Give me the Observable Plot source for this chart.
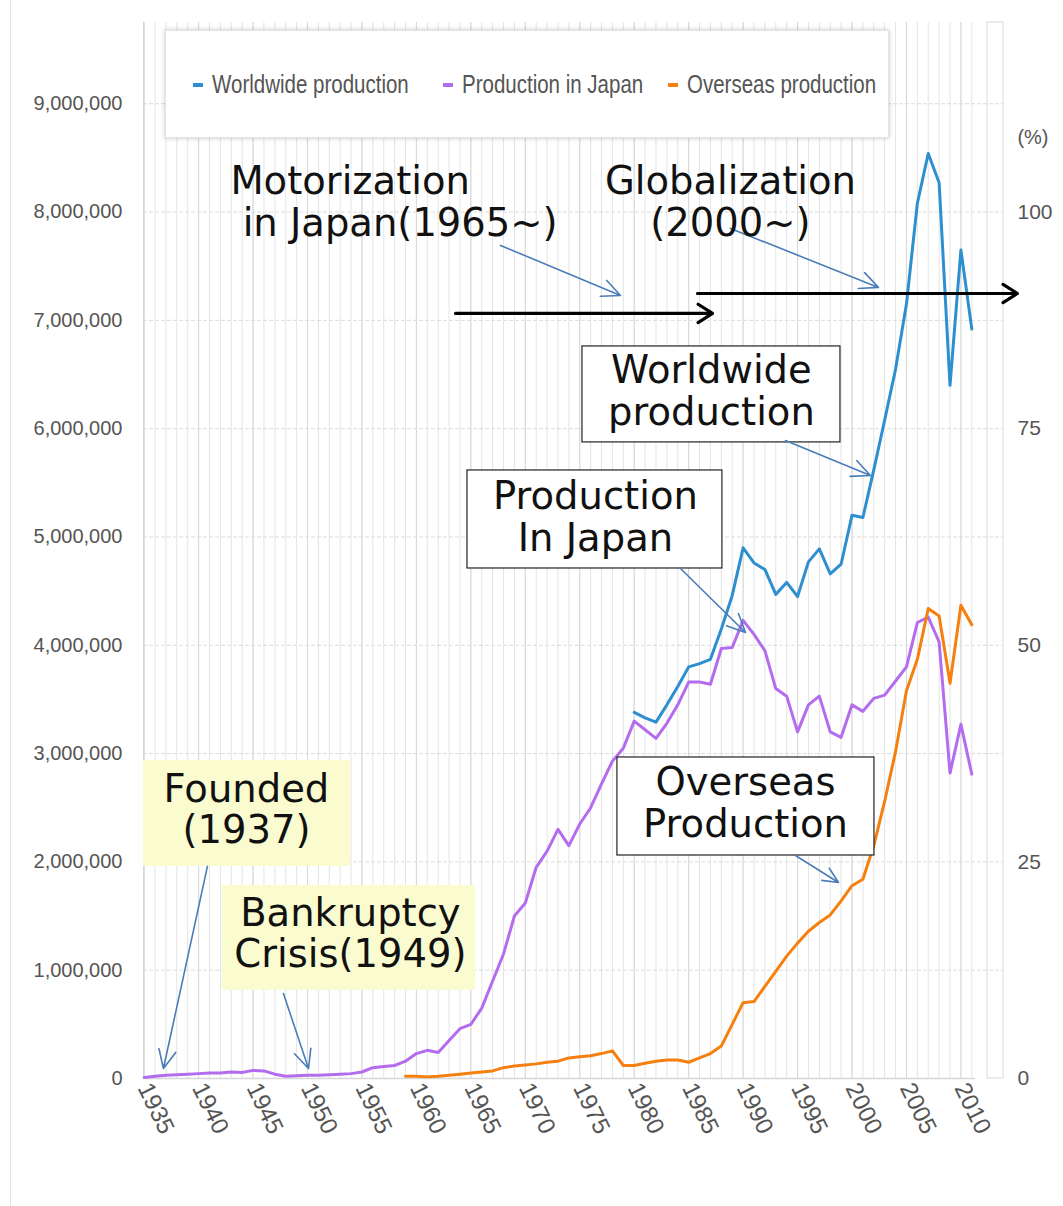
<!DOCTYPE html>
<html>
<head>
<meta charset="utf-8">
<script src="https://cdn.jsdelivr.net/npm/d3@7"></script>
<script src="https://cdn.jsdelivr.net/npm/@observablehq/plot@0.6"></script>
<style>
  html, body { margin: 0; padding: 0; background: #fff; }
  #wrap { position: relative; width: 1063px; height: 1206px; overflow: hidden; }
  #edge { position: absolute; left: 10px; top: 0; width: 1px; height: 1206px; background: #e2e2e2; }
  #legend { position: absolute; left: 165px; top: 30px; width: 724px; height: 108px; background: #fff;
            border: 1px solid #e3e3e3; box-shadow: 0 0 5px rgba(0,0,0,0.22); box-sizing: border-box;
            font-family: 'Liberation Sans', Arial, sans-serif; font-size: 25px; color: #555; }
  .li { position: absolute; top: 38px; height: 30px; }
  .sw { position: absolute; left: 0; top: 14px; width: 10px; height: 4px; }
  .lt { position: absolute; left: 19px; top: 0; white-space: nowrap; line-height: 30px;
        transform: scaleX(0.82); transform-origin: 0 50%; }
</style>
</head>
<body>
<div id="wrap"><div id="edge"></div></div>
<script>
// ---------------- data ----------------
const japanYears = d3.range(1935, 2012);
const japanValues = [
  10000, 20000, 30000, 35000, 40000, 45000, 50000, 50000, 60000, 55000,
  75000, 70000, 40000, 20000, 25000, 30000, 30000, 35000, 40000, 45000,
  60000, 100000, 110000, 120000, 160000, 230000, 260000, 240000, 350000, 460000,
  500000, 650000, 900000, 1150000, 1500000, 1620000, 1950000, 2100000, 2300000, 2150000,
  2350000, 2500000, 2720000, 2930000, 3050000, 3300000, 3220000, 3140000, 3280000, 3450000,
  3660000, 3660000, 3640000, 3970000, 3980000, 4230000, 4100000, 3950000, 3600000, 3530000,
  3200000, 3450000, 3530000, 3200000, 3150000, 3450000, 3390000, 3510000, 3540000, 3670000,
  3800000, 4210000, 4260000, 4030000, 2820000, 3270000, 2810000
];
const overseasYears = d3.range(1959, 2012);
const overseasValues = [
  20000, 20000, 15000, 20000, 30000, 40000, 50000, 60000, 70000, 100000,
  115000, 125000, 135000, 150000, 160000, 190000, 200000, 210000, 230000, 255000,
  120000, 120000, 140000, 160000, 170000, 170000, 150000, 190000, 230000, 300000,
  500000, 700000, 710000, 850000, 990000, 1130000, 1250000, 1360000, 1440000, 1510000,
  1640000, 1780000, 1840000, 2150000, 2560000, 3020000, 3580000, 3870000, 4340000, 4270000,
  3650000, 4370000, 4190000
];
const worldYears = d3.range(1980, 2012);
const worldValues = [
  3380000, 3330000, 3290000, 3450000, 3620000, 3800000, 3830000, 3870000, 4150000, 4460000,
  4900000, 4760000, 4700000, 4470000, 4580000, 4450000, 4770000, 4890000, 4660000, 4750000,
  5200000, 5180000, 5620000, 6080000, 6550000, 7150000, 8080000, 8540000, 8270000, 6400000,
  7650000, 6920000
];
const seriesNames = ["Worldwide production", "Production in Japan", "Overseas production"];
const seriesColors = ["#2e8fd0", "#b46cef", "#f5800f"];

const xTicks = d3.range(1935, 2011, 5);
const leftTicks = [0, 1000000, 2000000, 3000000, 4000000, 5000000, 6000000, 7000000, 8000000, 9000000];
const pctTicks = [0, 25, 50, 75, 100];
const pctBase = 8000000; // 100 %
const gridYears = d3.range(1935, 2012);

// annotations (in data units: year, vehicles)
const startLabels = [
  {x: 1942.92, y: 8098000, text: "Motorization\n in Japan(1965~)"}
];
const labels = [
  {x: 1988.84, y: 8098000, text: "Globalization\n(2000~)"},
  {x: 1987.09, y: 6353000, text: "Worldwide\nproduction"},
  {x: 1976.44, y: 5185000, text: "Production\nIn Japan"},
  {x: 1990.22, y: 2544000, text: "Overseas\nProduction"},
  {x: 1944.39, y: 2488000, text: "Founded\n(1937)"},
  {x: 1953.94, y: 1343000, text: "Bankruptcy\nCrisis(1949)"}
];
const boxes = [
  {x1: 1975.25, x2: 1998.94, y1: 5873000, y2: 6759000, kind: "white"},
  {x1: 1964.69, x2: 1988.10, y1: 4709000, y2: 5614000, kind: "white"},
  {x1: 1978.46, x2: 2002.06, y1: 2059000, y2: 2964000, kind: "white"},
  {x1: 1934.94, x2: 1953.94, y1: 1958000, y2: 2936000, kind: "yellow"},
  {x1: 1942.19, x2: 1965.42, y1: 813000, y2: 1782000, kind: "yellow"}
];
const pointers = [
  {x1: 1967.72, y1: 7692000, x2: 1978.74, y2: 7230000},
  {x1: 1988.84, y1: 7849000, x2: 2002.43, y2: 7304000},
  {x1: 1993.89, y1: 5891000, x2: 2001.69, y2: 5568000},
  {x1: 1984.25, y1: 4709000, x2: 1990.22, y2: 4118000},
  {x1: 1994.81, y1: 2059000, x2: 1998.76, y2: 1810000},
  {x1: 1940.81, y1: 1958000, x2: 1936.77, y2: 92000},
  {x1: 1947.79, y1: 785000, x2: 1950.09, y2: 92000}
];
const eras = [
  {x1: 1963.59, x2: 1987.19, y: 7064000},
  {x1: 1985.81, x2: 2015.19, y: 7248000}
];
const stripYears = [2012.44, 2013.91];

// ---------------- build ----------------
const rows = (name, ys, vs) => ys.map((yr, i) => ({series: name, year: yr, value: vs[i]}));
const japan = rows(seriesNames[1], japanYears, japanValues);
const overseas = rows(seriesNames[2], overseasYears, overseasValues);
const world = rows(seriesNames[0], worldYears, worldValues);

const annFont = "'DejaVu Sans', Verdana, sans-serif";
const annStyle = {fontSize: 38.5, fontFamily: annFont, fill: "#111", lineHeight: 1.08};

const chart = Plot.plot({
  width: 1063,
  height: 1206,
  marginLeft: 143,
  marginRight: 88,
  marginTop: 22,
  marginBottom: 128,
  style: {fontFamily: "'Liberation Sans', Arial, sans-serif", fontSize: "20px", color: "#555", background: "transparent"},
  x: {domain: [1934.94, 2011.34], axis: null},
  y: {domain: [0, 9750000], axis: null},
  marks: [
    Plot.ruleX(gridYears, {stroke: "#e4e4e4", strokeWidth: 1, y1: 0, y2: 9750000}),
    Plot.ruleX(xTicks, {stroke: "#d8d8d8", strokeWidth: 1, y1: 0, y2: 9750000}),
    Plot.ruleY(leftTicks.slice(1), {x1: 1934.94, x2: stripYears[1], stroke: "#dcdcdc", strokeDasharray: "4,2"}),
    Plot.ruleY([0], {x1: 1934.94, x2: 2011.34, stroke: "#d6d6d6", strokeWidth: 1.5}),
    Plot.ruleX([1934.94], {stroke: "#d6d6d6", y1: 0, y2: 9750000}),
    Plot.rect([{a: stripYears[0], b: stripYears[1]}], {x1: "a", x2: "b", y1: 0, y2: 9750000, fill: "none", stroke: "#dadada"}),
    Plot.line(japan, {x: "year", y: "value", stroke: seriesColors[1], strokeWidth: 3}),
    Plot.line(overseas, {x: "year", y: "value", stroke: seriesColors[2], strokeWidth: 3}),
    Plot.line(world, {x: "year", y: "value", stroke: seriesColors[0], strokeWidth: 3}),
    Plot.axisX(xTicks, {tickRotate: 64, tickSize: 0, tickPadding: 6, fontSize: 24, fill: "#555", label: null, tickFormat: d => String(d)}),
    Plot.axisY(leftTicks, {anchor: "left", tickFormat: d3.format(","), tickSize: 0, tickPadding: 21, fontSize: 20, fill: "#555", label: null}),
    Plot.axisY(pctTicks.map(p => p / 100 * pctBase), {anchor: "right", tickFormat: v => String(Math.round(v / pctBase * 100)), tickSize: 0, tickPadding: 42, fontSize: 21, fill: "#555", label: null}),
    Plot.text(["(%)"], {x: eras[1].x2, y: 8689000, text: d => d, textAnchor: "start", fontSize: 20, fill: "#555"}),
    Plot.rect(boxes, {x1: "x1", x2: "x2", y1: "y1", y2: "y2",
      fill: d => d.kind === "yellow" ? "#fbfbd0" : "#ffffff",
      stroke: d => d.kind === "yellow" ? "none" : "#222", strokeWidth: 1.2}),
    Plot.arrow(pointers, {x1: "x1", y1: "y1", x2: "x2", y2: "y2", stroke: "#4a7db8", strokeWidth: 1.6, headLength: 19, headAngle: 50}),
    Plot.arrow(eras, {x1: "x1", x2: "x2", y1: "y", y2: "y", stroke: "#000", strokeWidth: 3.2, headLength: 8, headAngle: 65}),
    Plot.text(startLabels, {x: "x", y: "y", text: "text", textAnchor: "start", ...annStyle}),
    Plot.text(labels, {x: "x", y: "y", text: "text", textAnchor: "middle", ...annStyle})
  ]
});
document.getElementById("wrap").prepend(chart);

// legend
const legend = document.createElement("div");
legend.id = "legend";
const lx = [27, 277, 502];
seriesNames.forEach((n, i) => {
  const it = document.createElement("div");
  it.className = "li";
  it.style.left = lx[i] + "px";
  it.innerHTML = `<span class="sw" style="background:${seriesColors[i]}"></span><span class="lt">${n}</span>`;
  legend.appendChild(it);
});
document.getElementById("wrap").appendChild(legend);
</script>
</body>
</html>
